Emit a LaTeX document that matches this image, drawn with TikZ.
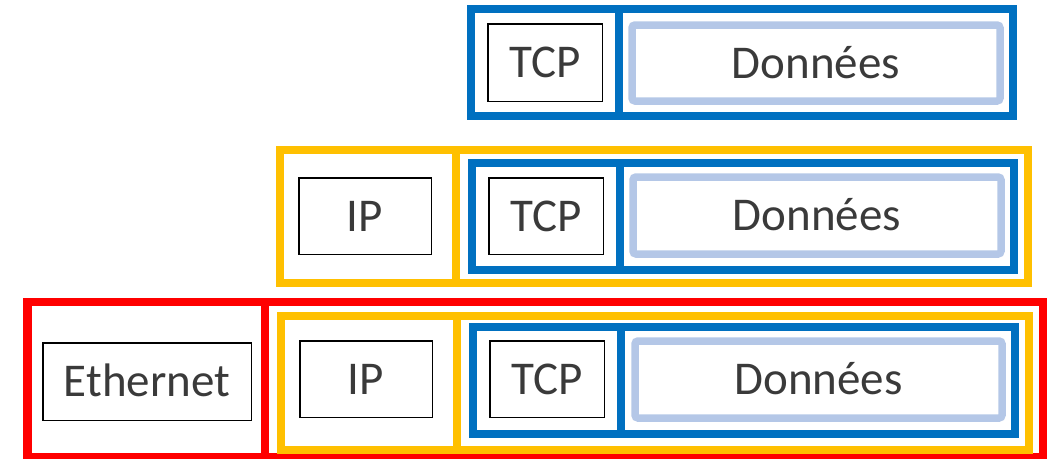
\documentclass[tikz,border=0pt]{standalone}
\usepackage{fontspec}
\setmainfont{Carlito}
\definecolor{tblue}{HTML}{0070C0}
\definecolor{tyellow}{HTML}{FFC000}
\definecolor{tred}{HTML}{FF0000}
\definecolor{tlight}{HTML}{B4C7E7}
\definecolor{ttext}{HTML}{3A3A3A}
\begin{document}
\begin{tikzpicture}[x=1pt,y=-1pt,
  frameblue/.style={draw=tblue,line width=8pt},
  frameyellow/.style={draw=tyellow,line width=8.5pt},
  framered/.style={draw=tred,line width=8.5pt},
  hdr/.style={draw=black,line width=1.5pt,fill=white,inner sep=0pt,
    text=ttext,font=\fontsize{47}{56}\selectfont,text height=30pt,text depth=0pt},
  data/.style={draw=tlight,line width=7.5pt,rounded corners=3pt,inner sep=0pt,
    text=ttext,font=\fontsize{47}{56}\selectfont,text height=30pt,text depth=0pt}]
\useasboundingbox (0,0) rectangle (1049,458);
\clip (0,0) rectangle (1049,458);
% Row 1
\draw[frameblue] (471,9) rectangle (1013,116) (619,9) -- (619,116);
\node[hdr,minimum width=114.5pt,minimum height=77.5pt] (tcpA) at (545,62.5) {TCP};
\node[data,minimum width=368pt,minimum height=76pt] (datA) at (816,63) {Données};
% Row 2
\draw[frameyellow] (280,150) rectangle (1028,283) (456,150) -- (456,283);
\node[hdr,minimum width=132.5pt,minimum height=76.5pt] (ipB) at (365,216) {IP};
\draw[frameblue] (472,163) rectangle (1014,270) (620,163) -- (620,270);
\node[hdr,minimum width=114.5pt,minimum height=76.5pt] (tcpB) at (546,216) {TCP};
\node[data,minimum width=368pt,minimum height=77pt] (datB) at (817,215.5) {Données};
% Row 3
\draw[framered] (27.5,302) rectangle (1043,457) (265,302) -- (265,457);
\node[hdr,minimum width=208.5pt,minimum height=77.5pt] (ethC) at (147,381.5) {Ethernet};
\draw[frameyellow] (281,316) rectangle (1029,450) (457,316) -- (457,450);
\node[hdr,minimum width=132.5pt,minimum height=76.5pt] (ipC) at (366,379) {IP};
\draw[frameblue] (473,327) rectangle (1015,434) (621,327) -- (621,434);
\node[hdr,minimum width=114.5pt,minimum height=76.5pt] (tcpC) at (547,379) {TCP};
\node[data,minimum width=367pt,minimum height=77pt] (datC) at (818.5,379.5) {Données};
\end{tikzpicture}
\end{document}
